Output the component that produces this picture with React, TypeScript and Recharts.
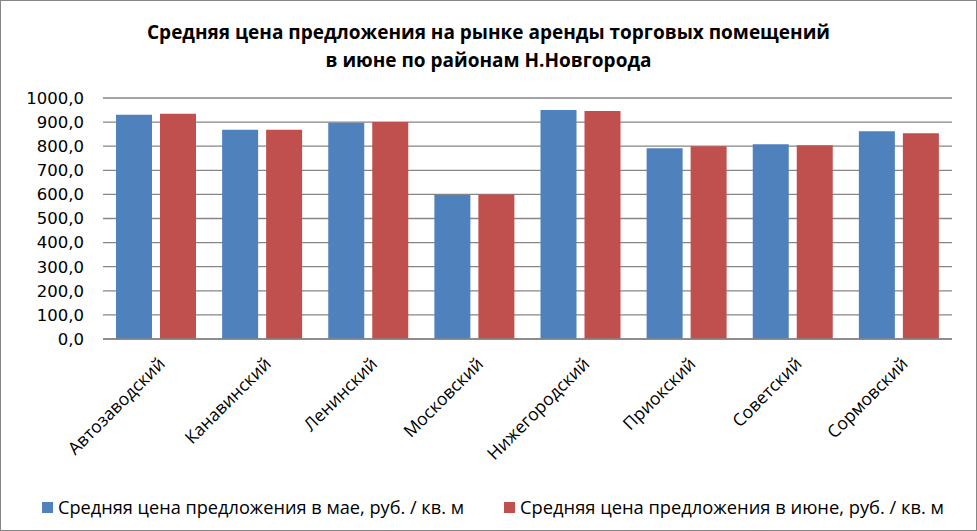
import { Bar, BarChart, CartesianGrid, XAxis, YAxis } from "recharts";

const districts = [
  "Автозаводский",
  "Канавинский",
  "Ленинский",
  "Московский",
  "Нижегородский",
  "Приокский",
  "Советский",
  "Сормовский",
];
const mayPrices = [930, 868, 897, 598, 950, 792, 808, 862];
const junePrices = [935, 868, 900, 600, 946, 800, 804, 854];
const yTicks = [0, 100, 200, 300, 400, 500, 600, 700, 800, 900, 1000];

const mayName = "Средняя цена предложения в мае, руб. / кв. м";
const juneName = "Средняя цена предложения в июне, руб. / кв. м";
const blue = "rgb(79 129 189)";
const red = "rgb(192 80 77)";

const data = districts.map((d, i) => ({ district: d, may: mayPrices[i], june: junePrices[i] }));

function RotatedTick({ x, y, payload }: any) {
  return (
    <text
      x={x + 10}
      y={y + 18}
      transform={`rotate(-45, ${x + 10}, ${y + 18})`}
      textAnchor="end"
      fontSize={17.5}
      fontFamily="Open Sans"
      fill="#000"
    >
      {payload.value}
    </text>
  );
}

export default function App() {
  const legend = [
    { name: mayName, color: blue, x: 41, len: 406 },
    { name: juneName, color: red, x: 503, len: 424 },
  ];
  return (
    <div
      style={{
        position: "absolute",
        left: 0,
        top: 0,
        width: 975,
        height: 529,
        border: "1px solid #868686",
        background: "#fff",
        fontFamily: "Open Sans",
      }}
    >
      <div
        style={{
          position: "absolute",
          top: 17,
          left: 0,
          width: 975,
          textAlign: "center",
          fontWeight: "bold",
          fontSize: 19,
          lineHeight: "28px",
          color: "#000",
        }}
      >
        Средняя цена предложения на рынке аренды торговых помещений
        <br />в июне по районам Н.Новгорода
      </div>
      <BarChart
        width={977}
        height={480}
        data={data}
        margin={{ top: 97, right: 26, left: 0, bottom: 0 }}
        barSize={36}
        barGap={8}
      >
        <CartesianGrid vertical={false} stroke="#868686" strokeWidth={1.3} />
        <XAxis
          dataKey="district"
          tick={<RotatedTick />}
          tickLine={false}
          axisLine={{ stroke: "#868686", strokeWidth: 1.3 }}
          height={142}
          interval={0}
        />
        <YAxis
          domain={[0, 1000]}
          ticks={yTicks}
          interval={0}
          tickFormatter={(v: number) => v.toFixed(1).replace(".", ",")}
          tick={{ fill: "#000", fontSize: 16.5, fontFamily: "DejaVu Sans" }}
          tickLine={false}
          axisLine={false}
          tickSize={0}
          tickMargin={19}
          width={102}
        />
        <Bar dataKey="may" name={mayName} fill={blue} isAnimationActive={false} />
        <Bar dataKey="june" name={juneName} fill={red} isAnimationActive={false} />
      </BarChart>
      <svg
        width={975}
        height={40}
        style={{ position: "absolute", top: 488, left: 0 }}
      >
        {legend.map((item, i) => (
          <g key={i}>
            <rect x={item.x} y={13} width={11} height={11} fill={item.color} />
            <text
              x={item.x + 16}
              y={25}
              fontSize={17.5}
              fontFamily="Open Sans"
              textLength={item.len}
              lengthAdjust="spacingAndGlyphs"
              fill="#000"
            >
              {item.name}
            </text>
          </g>
        ))}
      </svg>
    </div>
  );
}
